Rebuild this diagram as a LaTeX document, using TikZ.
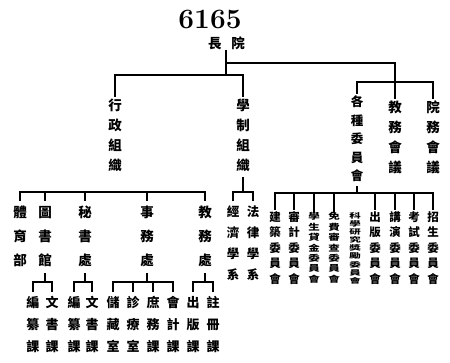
\documentclass[tikz,border=0pt]{standalone}
\usepackage{fontspec}
\usepackage{graphicx}
\newfontfamily\cjk{Noto Sans CJK TC}
\newcommand\vcol[2]{\scalebox{1}[#1]{\begin{tabular}{@{}c@{}}#2\end{tabular}}}
\tikzset{
  wire/.style={line width=1.1pt, black},
  num/.style={font=\bfseries\fontsize{28}{28}\selectfont},
  headtxt/.style={font=\cjk\bfseries\fontsize{13.5}{15}\selectfont},
  lone/.style={font=\cjk\bfseries\fontsize{13.5}{20}\selectfont},
  lgz/.style={font=\cjk\bfseries\fontsize{12.5}{18.5}\selectfont},
  ltwo/.style={font=\cjk\bfseries\fontsize{13.5}{24}\selectfont},
  lxi/.style={font=\cjk\bfseries\fontsize{12.5}{21}\selectfont},
  lthree/.style={font=\cjk\bfseries\fontsize{13}{22}\selectfont},
  cmfive/.style={font=\cjk\bfseries\fontsize{11.5}{15.5}\selectfont},
  cmseven/.style={font=\cjk\bfseries\fontsize{11.5}{14}\selectfont},
  cmnine/.style={font=\cjk\bfseries\fontsize{11.5}{13}\selectfont},
}
\begin{document}
\begin{tikzpicture}[x=1pt,y=-1pt,every node/.style={inner sep=0pt,outer sep=0pt}]
\useasboundingbox (0,0) rectangle (450,363);
% top
\node[num] (num) at (210,19) {6165};
\node[headtxt] (head) at (226.5,43) {長\hspace{10pt}院};
\coordinate (j0) at (226,75);
\coordinate (j1) at (226,63);
% level 1
\node[lone] (xz) at (115,137) {\vcol{1}{行\\政\\組\\織}};
\node[lone] (xz2) at (243,137) {\vcol{1}{學\\制\\組\\織}};
\node[lgz] (gz) at (357,140) {\vcol{1}{各\\種\\委\\員\\會}};
\node[lone] (jw) at (395,139) {\vcol{1}{教\\務\\會\\議}};
\node[lone] (yw) at (433,139) {\vcol{1}{院\\務\\會\\議}};
\coordinate (j2) at (395,82);
\draw[wire] (head.south -| j0) -- (j0);
\draw[wire] (xz.north) |- (j0) -| (xz2.north);
\draw[wire] (j1) -| (jw.north);
\draw[wire] (gz.north) |- (j2) -| (yw.north);
% level 2 under administration
\node[ltwo] (ty) at (20,237) {\vcol{1}{體\\育\\部}};
\node[ltwo] (tsg) at (45,237) {\vcol{1}{圖\\書\\館}};
\node[ltwo] (msc) at (85,237) {\vcol{1}{秘\\書\\處}};
\node[ltwo] (swc) at (147,237) {\vcol{1}{事\\務\\處}};
\node[ltwo] (jwc) at (205,237) {\vcol{1}{教\\務\\處}};
\coordinate (j3) at (113,192);
\draw[wire] (ty.north) |- (j3) -| (jwc.north);
\foreach \n in {tsg,msc,swc} \draw[wire] (\n.north) -- (\n.north |- j3);
% level 2 under academic
\node[lxi] (jj) at (233,243.5) {\vcol{1}{經\\濟\\學\\系}};
\node[lxi] (fl) at (253,243.5) {\vcol{1}{法\\律\\學\\系}};
\coordinate (j4) at (243,192);
\draw[wire] (xz2.south) -- (xz2.south |- j4);
\draw[wire] (jj.north) |- (j4) -| (fl.north);
% committees
\coordinate (j5) at (357,193);
\draw[wire] (gz.south) -- (gz.south |- j5);
\node[cmfive] (c1) at (275,249) {\vcol{1}{建\\築\\委\\員\\會}};
\node[cmfive] (c2) at (294,249) {\vcol{1}{審\\計\\委\\員\\會}};
\node[cmseven] (c3) at (314,249) {\vcol{0.74}{學\\生\\貸\\金\\委\\員\\會}};
\node[cmseven] (c4) at (334,249) {\vcol{0.74}{免\\費\\審\\查\\委\\員\\會}};
\node[cmnine] (c5) at (355,249) {\vcol{0.6}{科\\學\\研\\究\\獎\\勵\\委\\員\\會}};
\node[cmfive] (c6) at (375,249) {\vcol{1}{出\\版\\委\\員\\會}};
\node[cmfive] (c7) at (395,249) {\vcol{1}{講\\演\\委\\員\\會}};
\node[cmfive] (c8) at (414,249) {\vcol{1}{考\\試\\委\\員\\會}};
\node[cmfive] (c9) at (433,249) {\vcol{1}{招\\生\\委\\員\\會}};
\draw[wire] (c1.north) |- (j5) -| (c9.north);
\foreach \n in {c2,c3,c4,c6,c7,c8} \draw[wire] (\n.north) -- (\n.north |- j5);
% level 3
\node[lthree] (a1) at (33,325) {\vcol{1}{編\\纂\\課}};
\node[lthree] (a2) at (52,325) {\vcol{1}{文\\書\\課}};
\node[lthree] (b1) at (74,325) {\vcol{1}{編\\纂\\課}};
\node[lthree] (b2) at (92,325) {\vcol{1}{文\\書\\課}};
\node[lthree] (s1) at (113,325) {\vcol{1}{儲\\藏\\室}};
\node[lthree] (s2) at (133,325) {\vcol{1}{診\\療\\室}};
\node[lthree] (s3) at (153,325) {\vcol{1}{庶\\務\\課}};
\node[lthree] (s4) at (173,325) {\vcol{1}{會\\計\\課}};
\node[lthree] (e1) at (193,325) {\vcol{1}{出\\版\\課}};
\node[lthree] (e2) at (213,325) {\vcol{1}{註\\冊\\課}};
\coordinate (j6) at (43,282);
\coordinate (j7) at (84,282);
\coordinate (j8) at (145,282);
\coordinate (j9) at (203,282);
\draw[wire] (tsg.south) -- (tsg.south |- j6);
\draw[wire] (a1.north) |- (j6) -| (a2.north);
\draw[wire] (msc.south) -- (msc.south |- j7);
\draw[wire] (b1.north) |- (j7) -| (b2.north);
\draw[wire] (swc.south) -- (swc.south |- j8);
\draw[wire] (s1.north) |- (j8) -| (s4.north);
\foreach \n in {s2,s3} \draw[wire] (\n.north) -- (\n.north |- j8);
\draw[wire] (jwc.south) -- (jwc.south |- j9);
\draw[wire] (e1.north) |- (j9) -| (e2.north);
\end{tikzpicture}
\end{document}
